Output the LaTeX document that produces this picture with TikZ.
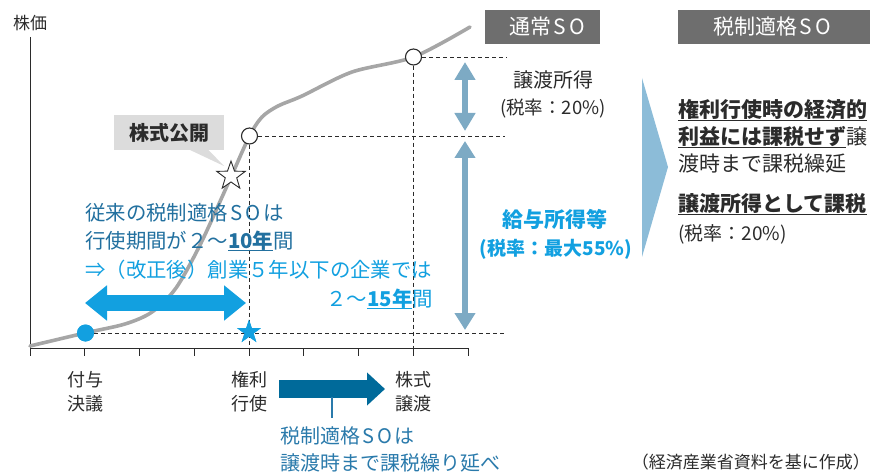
\documentclass[tikz,border=0pt]{standalone}
\usepackage{fontspec}
\setmainfont{Noto Sans CJK JP}
\usetikzlibrary{arrows.meta,shapes.geometric}
\definecolor{curvegray}{HTML}{A6A6A6}
\definecolor{textdark}{HTML}{2B2B2B}
\definecolor{hdrgray}{HTML}{6E6E6E}
\definecolor{calloutgray}{HTML}{DCDCDC}
\definecolor{lightarrow}{HTML}{7DAAC4}
\definecolor{chevroncol}{HTML}{8CBCD8}
\definecolor{brightblue}{HTML}{12A0E0}
\definecolor{darkblue}{HTML}{22709F}
\definecolor{arrowblue}{HTML}{006A9A}
\definecolor{bottomblue}{HTML}{2A7AAB}
\newcommand\fs[1]{\fontsize{#1}{#1}\selectfont}
\newcommand\myul[1]{\setbox0\hbox{#1}\rlap{\rule[-3.4pt]{\wd0}{1.4pt}}\box0}
\newcommand\SOtxt{\kern0.1em S\kern0.15em O\kern0.15em}
\begin{document}
\begin{tikzpicture}[x=1pt,y=-1pt,
  axisline/.style={draw=textdark,line width=1pt},
  dashln/.style={draw=textdark,line width=0.8pt,dash pattern=on 4pt off 3pt},
  txt/.style={inner sep=0pt,text=textdark},
  hdr/.style={fill=hdrgray,text=white,inner sep=0pt,minimum height=34pt},
  opencirc/.style={circle,draw=textdark,fill=white,line width=1.1pt,minimum size=16pt,inner sep=0pt},
]
\useasboundingbox (0,0) rectangle (873,473);

% axes
\coordinate (ytop) at (30,37);
\coordinate (origin) at (30,348);
\coordinate (xend) at (468,348);
\draw[axisline] (ytop) -- (origin) -- (xend);
\foreach \i in {0,...,8} \draw[axisline] ({30+54.75*\i},348) -- ++(0,8);
\node[txt,anchor=base] (ylabel) at (30,29.5) {\fs{17}株価};

% curve
\draw[curvegray,line width=3.6pt,line cap=round] plot[smooth,tension=0.5] coordinates {
 (30,346) (85,333) (125,324) (152,312) (176,288) (201,243) (231,177) (249.5,136)
 (262,117) (278,106) (302,96) (352,72) (413.5,57) (470,27)};

% dashed guides
\node[opencirc] (ipo) at (249.5,136) {};
\node[opencirc] (sale) at (413.5,57) {};
\node[circle,fill=brightblue,minimum size=17pt,inner sep=0pt] (grant) at (85.5,333) {};
\node[star,star points=5,star point ratio=2.6,fill=brightblue,minimum size=25pt,inner sep=0pt] (exstar) at (249,332) {};
\coordinate (g1) at (505,136);
\coordinate (g2) at (507,57);
\coordinate (g3) at (505,333);
\coordinate (ax1) at (249.5,348);
\coordinate (ax2) at (413.5,348);
\draw[dashln] (ipo.east) -- (g1);
\draw[dashln] (sale.east) -- (g2);
\draw[dashln] (grant.east) -- (g3);
\draw[dashln] (ipo.south) -- (ax1);
\draw[dashln] (sale.south) -- (ax2);
\node[circle,fill=brightblue,minimum size=17pt,inner sep=0pt] at (85.5,333) {};
\node[star,star points=5,star point ratio=2.6,fill=brightblue,minimum size=25pt,inner sep=0pt] at (249,332) {};

% IPO callout
\node[fill=calloutgray,minimum width=110pt,minimum height=35pt,inner sep=0pt,text=textdark] (ipolabel) at (169,132.5) {\fs{20}\bfseries 株式公開};
\fill[calloutgray] (189,149.5) -- (208,149.5) -- (224,166) -- cycle;
\node[star,star points=5,star point ratio=2.5,draw=textdark,fill=white,line width=0.9pt,minimum size=30pt,inner sep=0pt] (ipostar) at (231,176) {};

% headers
\node[hdr,minimum width=115pt] (hdrA) at (542.5,27) {\fs{21}\hspace{12pt}通常\SOtxt};
\node[hdr,minimum width=192pt] (hdrB) at (774,27) {\fs{21}税制適格\SOtxt};

% vertical arrows
\coordinate (a1t) at (465,62);
\coordinate (a1b) at (465,131);
\coordinate (a2t) at (465,141);
\coordinate (a2b) at (465,330);
\draw[lightarrow,line width=6pt,{Triangle[width=20pt,length=18pt]}-{Triangle[width=20pt,length=18pt]}] (a1t) -- (a1b);
\draw[lightarrow,line width=6pt,{Triangle[width=20pt,length=17pt]}-{Triangle[width=20pt,length=17pt]}] (a2t) -- (a2b);

\node[txt,anchor=base] (m1) at (553,87.5) {\fs{20}譲渡所得};
\node[txt,anchor=base] (m2) at (553,115) {\fs{18.5}(税率：20\%)};
\node[txt,anchor=base,text=brightblue] (m3) at (555,228) {\fs{21}\bfseries 給与所得等};
\node[txt,anchor=base,text=brightblue] (m4) at (556,255) {\fs{19}\bfseries (税率：最大55\%)};

% chevron
\fill[chevroncol] (642,78) -- (668,167) -- (642,257) -- cycle;

% right text
\node[txt,anchor=base west] (r1) at (678,118) {\fs{21}\bfseries\myul{権利行使時の経済的}};
\node[txt,anchor=base west] (r2) at (678,145) {\fs{21}\myul{\bfseries 利益には課税せず}譲};
\node[txt,anchor=base west] (r3) at (678,172) {\fs{21}渡時まで課税繰延};
\node[txt,anchor=base west] (r4) at (678,212) {\fs{21}\bfseries\myul{譲渡所得として課税}};
\node[txt,anchor=base west] (r5) at (678,241) {\fs{19}(税率：20\%)};

% left blue text
\node[txt,anchor=base west,text=darkblue] (l1) at (85,221) {\fs{20.4}従来の税制適格\SOtxt は};
\node[txt,anchor=base west,text=darkblue] (l2) at (85,248) {\fs{20.4}行使期間が２～\myul{\bfseries 10年}間};
\node[txt,anchor=base west,text=brightblue] (l3) at (85,277) {\fs{20.4}⇒（改正後）創業５年以下の企業では};
\node[txt,anchor=base east,text=brightblue] (l4) at (433,306) {\fs{20.4}２～\myul{\bfseries 15年}間};

% horizontal period arrow
\coordinate (p1) at (85,303);
\coordinate (p2) at (246,303);
\draw[brightblue,line width=16pt,{Triangle[width=34pt,length=22pt]}-{Triangle[width=34pt,length=22pt]}] (p1) -- (p2);

% axis labels
\node[txt,anchor=base] (b1) at (85.5,386) {\fs{18}付与};
\node[txt,anchor=base] (b2) at (85.5,410) {\fs{18}決議};
\node[txt,anchor=base] (b3) at (249.5,386) {\fs{18}権利};
\node[txt,anchor=base] (b4) at (249.5,410) {\fs{18}行使};
\node[txt,anchor=base] (b5) at (413.5,386) {\fs{18}株式};
\node[txt,anchor=base] (b6) at (413.5,410) {\fs{18}譲渡};

% deferral arrow
\coordinate (d1) at (279,389);
\coordinate (d2) at (385,389);
\draw[arrowblue,line width=18pt,-{Triangle[width=32pt,length=18pt]}] (d1) -- (d2);
\coordinate (lk1) at (332,397);
\coordinate (lk2) at (332,418);
\draw[bottomblue,line width=1.2pt] (lk1) -- (lk2);
\node[txt,anchor=base west,text=bottomblue] (bt1) at (280,443) {\fs{20}税制適格\SOtxt は};
\node[txt,anchor=base west,text=bottomblue] (bt2) at (280,470) {\fs{20}譲渡時まで課税繰り延べ};

% source
\node[txt,anchor=base east] (src) at (870,468) {\fs{17}（経済産業省資料を基に作成）};
\end{tikzpicture}
\end{document}
